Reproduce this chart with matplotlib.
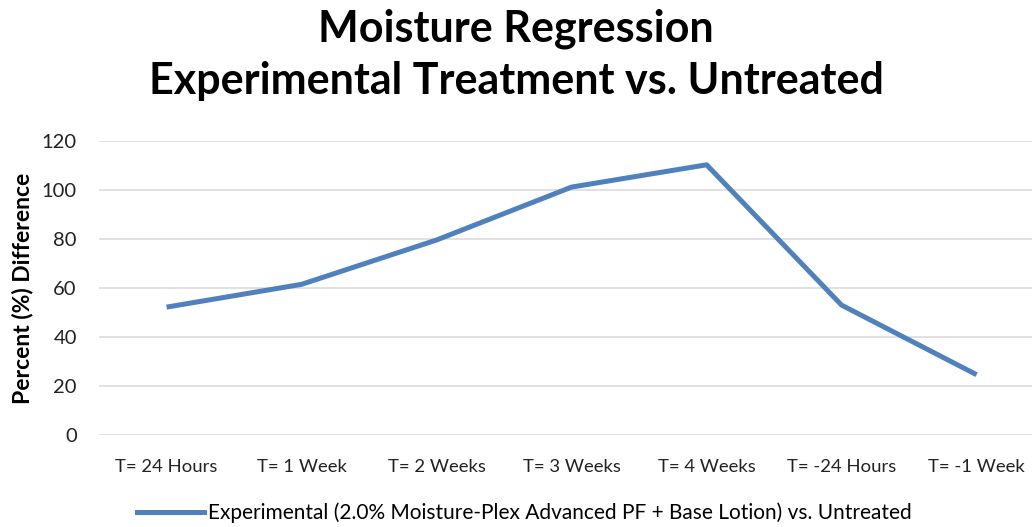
import numpy as np
import matplotlib.pyplot as plt
from matplotlib.lines import Line2D

plt.rcParams['font.family'] = ['Lato', 'DejaVu Sans']

categories = ['T= 24 Hours', 'T= 1 Week', 'T= 2 Weeks', 'T= 3 Weeks',
              'T= 4 Weeks', 'T= -24 Hours', 'T= -1 Week']
values = [52.2, 61.5, 79.6, 101.2, 110.3, 53.0, 24.6]
yticks = [0, 20, 40, 60, 80, 100, 120]
series_name = 'Experimental (2.0% Moisture-Plex Advanced PF + Base Lotion) vs. Untreated'

fig = plt.figure(figsize=(10.32, 5.27), dpi=100)
ax = fig.add_axes([0.096, 0.1746, 0.904, 0.5578])

x = np.arange(len(categories))
ax.plot(x, values, color='#4F81BD', linewidth=3.6, solid_capstyle='butt')

ax.set_xlim(-0.5, 6.41)
ax.set_ylim(0, 120)
ax.set_yticks(yticks)
ax.set_xticks(x)
ax.set_xticklabels(categories, fontsize=13.3, color='#222222')
ax.tick_params(axis='y', labelsize=14.5, colors='#222222', length=0, pad=16)
ax.tick_params(axis='x', length=0, pad=17)
ax.grid(axis='y', color='#D9D9D9', linewidth=1.1)
ax.set_axisbelow(True)
for s in ax.spines.values():
    s.set_visible(False)

ax.set_ylabel('Percent (%) Difference', fontsize=16.5, fontweight='bold', labelpad=6)

fig.text(0.5, 0.946, 'Moisture Regression', ha='center', va='center',
         fontsize=31, fontweight='bold')
fig.text(0.5, 0.846, 'Experimental Treatment vs. Untreated', ha='center', va='center',
         fontsize=31, fontweight='bold')

handle = Line2D([0], [0], color='#4F81BD', linewidth=3.6)
fig.legend([handle], [series_name], loc='center', bbox_to_anchor=(0.508, 0.027),
           frameon=False, fontsize=15, handlelength=3.2, handletextpad=0.2)

fig.savefig('out.png', dpi=100)
